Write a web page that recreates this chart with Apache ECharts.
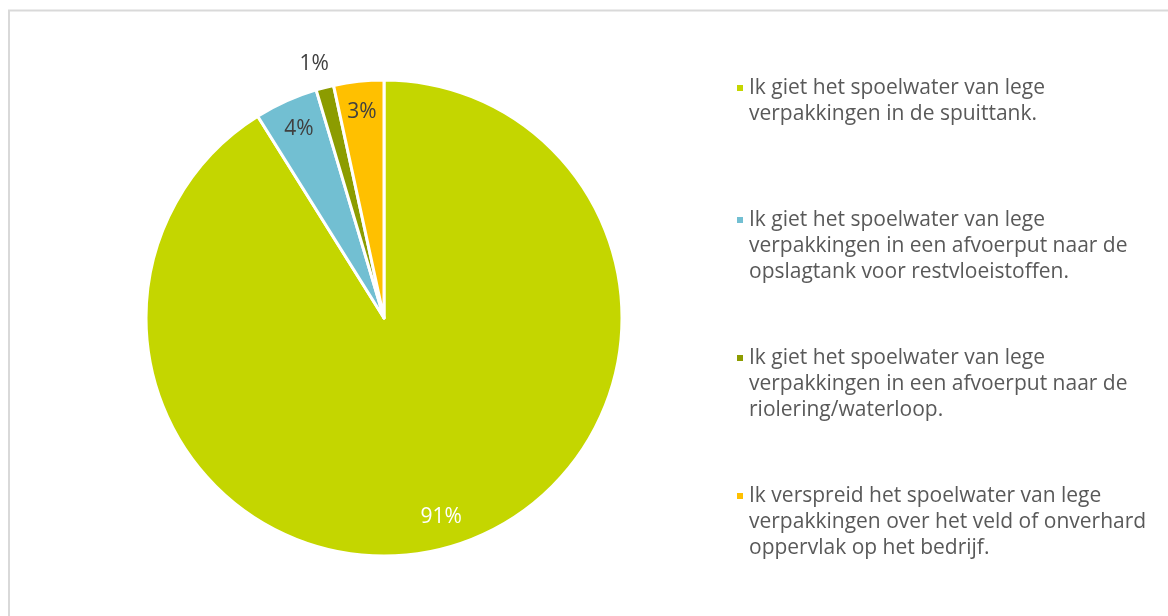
<!DOCTYPE html>
<html>
<head>
<meta charset="utf-8">
<script src="https://cdn.jsdelivr.net/npm/echarts@6/dist/echarts.min.js"></script>
<style>
  html, body { margin: 0; padding: 0; background: #fff; }
  #chart { width: 1168px; height: 616px; }
</style>
</head>
<body>
<div id="chart"></div>
<script>
// answers, in legend order
const categories = [
  'Ik giet het spoelwater van lege verpakkingen in de spuittank.',
  'Ik giet het spoelwater van lege verpakkingen in een afvoerput naar de opslagtank voor restvloeistoffen.',
  'Ik giet het spoelwater van lege verpakkingen in een afvoerput naar de riolering/waterloop.',
  'Ik verspreid het spoelwater van lege verpakkingen over het veld of onverhard oppervlak op het bedrijf.'
];
// legend text as it wraps in the picture
const legendLines = [
  ['Ik giet het spoelwater van lege', 'verpakkingen in de spuittank.'],
  ['Ik giet het spoelwater van lege', 'verpakkingen in een afvoerput naar de', 'opslagtank voor restvloeistoffen.'],
  ['Ik giet het spoelwater van lege', 'verpakkingen in een afvoerput naar de', 'riolering/waterloop.'],
  ['Ik verspreid het spoelwater van lege', 'verpakkingen over het veld of onverhard', 'oppervlak op het bedrijf.']
];
const shares = [91.1, 4.3, 1.2, 3.4];
const colors = ['#c4d600', '#72bfd2', '#8c9c00', '#ffc000'];

const FONT = '"Open Sans", sans-serif';
const LH = 26;
const legendTops = [49, 155, 293, 431];

const chart = echarts.init(document.getElementById('chart'));

const pieData = categories.map((name, i) => ({ name: name, value: shares[i] }));
const labelData = categories.map((name, i) => {
  const item = { name: name, value: shares[i] };
  if (i === 0) item.label = { color: '#ffffff' };
  if (i === 2) {
    item.label = { position: 'outside', distanceToLabelLine: -10 };
    item.labelLine = { show: false, length: 24, length2: 0 };
  }
  return item;
});

// blank lines in front keep the icon level with the first text line
const legends = categories.map((name, i) => ({
  data: [name],
  left: 735,
  top: legendTops[i],
  padding: 0,
  orient: 'vertical',
  icon: 'rect',
  itemWidth: 8,
  itemHeight: 8,
  selectedMode: false,
  formatter: () => new Array(legendLines[i].length - 1).fill(' ').concat(legendLines[i]).join('\n'),
  textStyle: {
    fontFamily: FONT,
    fontSize: 21,
    color: '#595959',
    lineHeight: LH
  }
}));

chart.setOption({
  animation: false,
  color: colors,
  graphic: [{
    type: 'rect',
    shape: { x: 9, y: 10.5, width: 1300, height: 800 },
    style: { fill: 'none', stroke: '#d9d9d9', lineWidth: 2 },
    silent: true
  }],
  legend: legends,
  series: [
    {
      type: 'pie',
      center: [384, 318],
      radius: 238,
      startAngle: 90,
      clockwise: true,
      silent: true,
      data: pieData,
      itemStyle: { borderColor: '#fff', borderWidth: 3 },
      label: { show: false },
      labelLine: { show: false }
    },
    {
      type: 'pie',
      center: [384, 318],
      radius: [170, 238],
      startAngle: 90,
      clockwise: true,
      silent: true,
      data: labelData,
      itemStyle: { color: 'rgba(0,0,0,0)', borderWidth: 0 },
      label: {
        show: true,
        position: 'inside',
        formatter: (p) => Math.round(p.value) + '%',
        fontFamily: FONT,
        fontSize: 21,
        color: '#404040'
      },
      labelLine: { show: false }
    }
  ]
});
</script>
</body>
</html>
